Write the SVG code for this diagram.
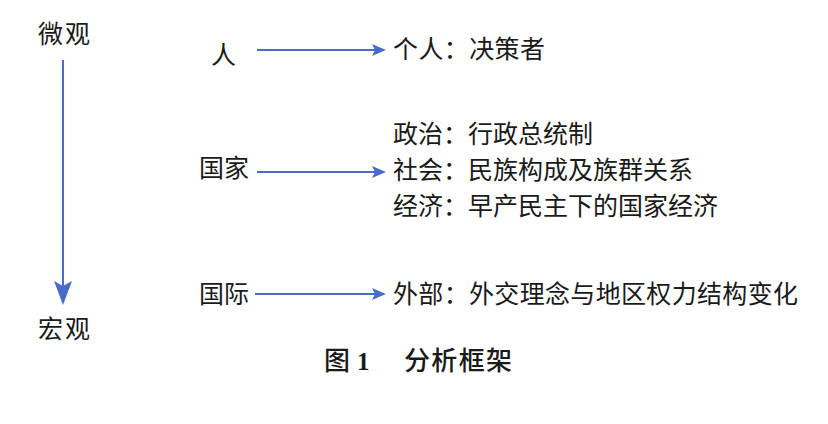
<svg xmlns="http://www.w3.org/2000/svg" width="828" height="424" viewBox="0 0 828 424">
<style>
text{font-family:"Noto Sans CJK SC","Noto Sans",sans-serif;font-size:25px;fill:#1a1a1a}
.cap{font-weight:500;font-size:26px}
.num{font-family:"Liberation Serif",serif;font-weight:bold;font-size:25px}
.ln{stroke:#4a6cc8;stroke-width:2;fill:none}
.hd{fill:#4a6cc8}
</style>
<rect width="828" height="424" fill="#fff"/>
<g id="micro"><text x="38" y="43" textLength="52" lengthAdjust="spacing">微观</text></g>
<g id="macro"><text x="38" y="338" textLength="52" lengthAdjust="spacing">宏观</text></g>
<g id="person"><text x="211" y="64">人</text></g>
<g id="state"><text x="199" y="177">国家</text></g>
<g id="intl"><text x="199" y="303">国际</text></g>
<g id="person-desc"><text x="393" y="58" textLength="152" lengthAdjust="spacing">个人：决策者</text></g>
<g id="state-desc">
<text x="393" y="143">政治：行政总统制</text>
<text x="393" y="179">社会：民族构成及族群关系</text>
<text x="393" y="215">经济：早产民主下的国家经济</text>
</g>
<g id="intl-desc"><text x="393" y="303" textLength="405" lengthAdjust="spacing">外部：外交理念与地区权力结构变化</text></g>
<g id="connectors">
<line class="ln" x1="63" y1="60" x2="63" y2="290"/>
<path class="hd" d="M54,281 L63,305 L72,281 L63,286 Z"/>
<line class="ln" x1="257" y1="50" x2="376" y2="50"/>
<path class="hd" d="M372,44 L386,50 L372,56 L375,50 Z"/>
<line class="ln" x1="257" y1="172" x2="376" y2="172"/>
<path class="hd" d="M372,166 L386,172 L372,178 L375,172 Z"/>
<line class="ln" x1="255" y1="294" x2="376" y2="294"/>
<path class="hd" d="M372,288 L386,294 L372,300 L375,294 Z"/>
</g>
<g id="caption">
<text class="cap" x="324" y="370">图</text>
<text class="num" x="357" y="370">1</text>
<text class="cap" x="404" y="370" textLength="108" lengthAdjust="spacing">分析框架</text>
</g>
</svg>
